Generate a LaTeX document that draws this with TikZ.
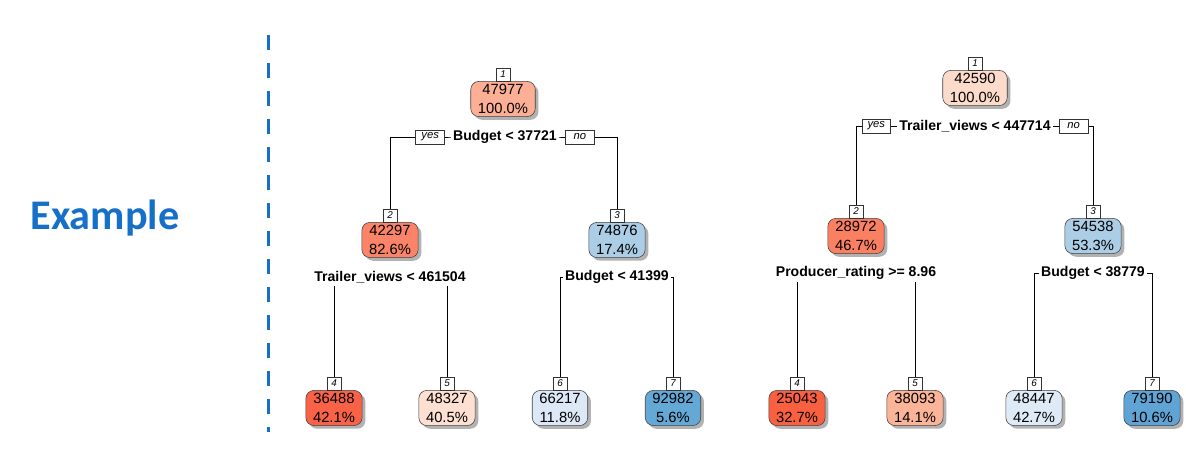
\documentclass[tikz,border=0pt]{standalone}
\usepackage{fontspec}
\setmainfont{Liberation Sans}
\newfontfamily\carlito{Carlito}
\usetikzlibrary{positioning,shadows}

\definecolor{exblue}{RGB}{22,112,200}
\definecolor{rA}{RGB}{252,175,148}
\definecolor{rB}{RGB}{251,132,104}
\definecolor{rC}{RGB}{249,98,70}
\definecolor{rD}{RGB}{253,224,210}
\definecolor{rE}{RGB}{253,219,203}
\definecolor{rF}{RGB}{251,128,98}
\definecolor{rG}{RGB}{249,96,64}
\definecolor{rH}{RGB}{252,180,153}
\definecolor{bA}{RGB}{171,206,230}
\definecolor{bB}{RGB}{220,232,245}
\definecolor{bC}{RGB}{100,168,214}
\definecolor{bD}{RGB}{222,235,247}
\definecolor{bE}{RGB}{95,164,212}

\pgfdeclarelayer{background}
\pgfsetlayers{background,main}

\tikzset{
  treebox/.style={draw=black!75, rounded corners=0.2cm, align=center,
    font=\fontsize{10.5}{13}\selectfont, inner xsep=0.18cm, inner ysep=0.08cm,
    drop shadow={shadow xshift=0.08cm, shadow yshift=-0.08cm, opacity=0.55, fill=black!55}},
  numbox/.style={draw=black!80, fill=white, font=\fontsize{7}{7}\selectfont\itshape,
    inner sep=0pt, minimum width=0.34cm, minimum height=0.32cm,
    drop shadow={shadow xshift=0.04cm, shadow yshift=-0.04cm, opacity=0.4, fill=black!55}},
  yesno/.style={draw=black!80, fill=white, font=\fontsize{8}{8}\selectfont\itshape,
    inner sep=0pt, minimum width=0.72cm, minimum height=0.35cm},
  splitlbl/.style={fill=white, font=\fontsize{10}{10}\selectfont\bfseries, inner xsep=1.5pt, inner ysep=2pt},
}

\begin{document}
\begin{tikzpicture}[x=0.025cm,y=-0.025cm]
\useasboundingbox (0,0) rectangle (1186,451);

% left side
\node[text=exblue, font=\carlito\fontsize{30}{30}\selectfont\bfseries] (ex) at (105,218) {Example};
\draw[exblue, line width=0.075cm, dash pattern=on 0.37cm off 0.33cm] (268,35) -- (268,432);

% ---- tree on budget ----
\node[treebox, fill=rA] (a1) at (503,99) {47977\\100.0\%};
\node[treebox, fill=rB] (a2) at (390,240) {42297\\82.6\%};
\node[treebox, fill=bA] (a3) at (617,240) {74876\\17.4\%};
\node[treebox, fill=rC] (a4) at (334,408) {36488\\42.1\%};
\node[treebox, fill=rD] (a5) at (447,408) {48327\\40.5\%};
\node[treebox, fill=bB] (a6) at (560,408) {66217\\11.8\%};
\node[treebox, fill=bC] (a7) at (673,408) {92982\\5.6\%};
\foreach \i in {1,...,7}
  \node[numbox, above=0pt of a\i] (an\i) {\i};

\node[splitlbl] (as1) at (505,137) {Budget < 37721};
\node[yesno, left=0.15cm of as1] (ay) {yes};
\node[yesno, right=0.15cm of as1] (ano) {no};
\node[splitlbl] (as2) at (390,277) {Trailer\_views < 461504};
\node[splitlbl] (as3) at (617,277) {Budget < 41399};

\begin{pgfonlayer}{background}
\draw (an2.north) |- (as1.center) -| (an3.north);
\draw (an4.north) |- (as2.center) -| (an5.north);
\draw (an6.north) |- (as3.center) -| (an7.north);
\end{pgfonlayer}

% ---- tree on trailer views ----
\node[treebox, fill=rE] (b1) at (975,88) {42590\\100.0\%};
\node[treebox, fill=rF] (b2) at (856,236) {28972\\46.7\%};
\node[treebox, fill=bA] (b3) at (1093,236) {54538\\53.3\%};
\node[treebox, fill=rG] (b4) at (797,408) {25043\\32.7\%};
\node[treebox, fill=rH] (b5) at (915,408) {38093\\14.1\%};
\node[treebox, fill=bD] (b6) at (1034,408) {48447\\42.7\%};
\node[treebox, fill=bE] (b7) at (1152,408) {79190\\10.6\%};
\foreach \i in {1,...,7}
  \node[numbox, above=0pt of b\i] (bn\i) {\i};

\node[splitlbl] (bs1) at (975,126) {Trailer\_views < 447714};
\node[yesno, left=0.15cm of bs1] (by) {yes};
\node[yesno, right=0.15cm of bs1] (bno) {no};
\node[splitlbl] (bs2) at (856,273) {Producer\_rating >= 8.96};
\node[splitlbl] (bs3) at (1093,273) {Budget < 38779};

\begin{pgfonlayer}{background}
\draw (bn2.north) |- (bs1.center) -| (bn3.north);
\draw (bn4.north) |- (bs2.center) -| (bn5.north);
\draw (bn6.north) |- (bs3.center) -| (bn7.north);
\end{pgfonlayer}
\end{tikzpicture}
\end{document}
